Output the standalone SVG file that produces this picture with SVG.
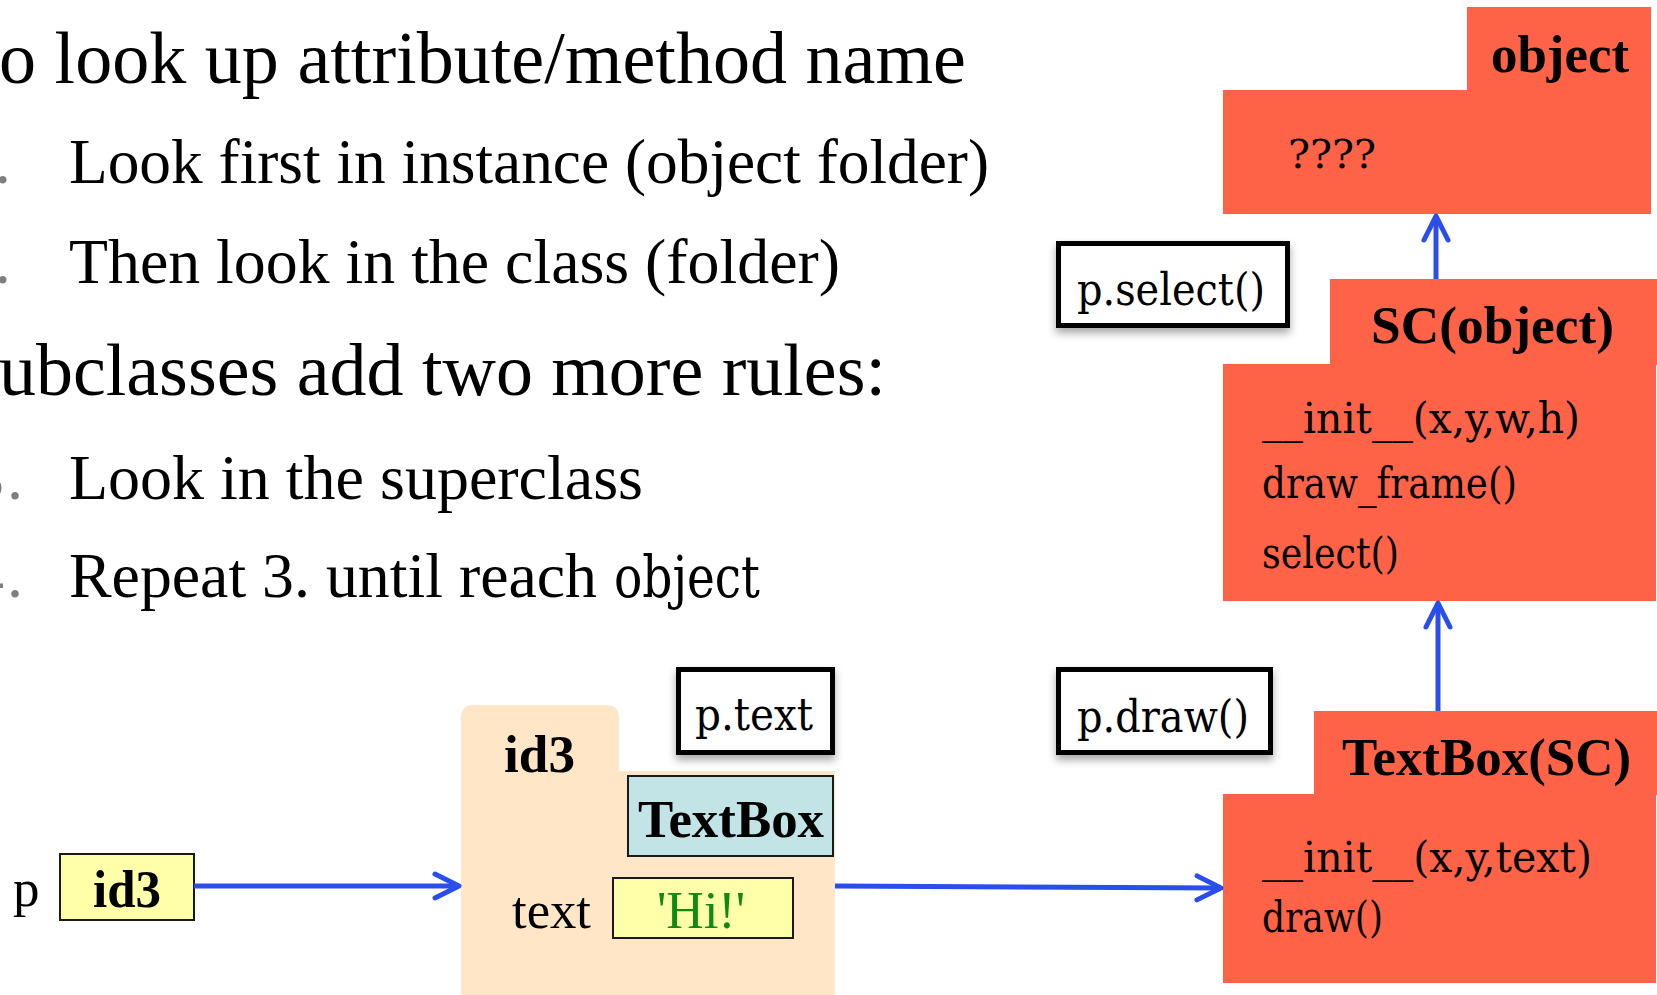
<svg xmlns="http://www.w3.org/2000/svg" width="1657" height="995" viewBox="0 0 1657 995">
  <style>
    .body { font-family: "Liberation Serif", "Times New Roman", serif; fill: #000; }
    .bul { font-family: "Liberation Serif", "Times New Roman", serif; fill: #7f7f7f; }
    .bold { font-family: "Liberation Serif", "Times New Roman", serif; font-weight: bold; fill: #000; }
    .tt { font-family: "DejaVu Serif Condensed", "DejaVu Serif", serif; font-stretch: condensed; fill: #000; }
    .cls { fill: #FF6347; }
    .callout { fill: #fff; stroke: #000; stroke-width: 5; filter: url(#shadow); }
    .val { fill: #FFFFAA; stroke: #1a1a1a; stroke-width: 2; }
    .link { stroke: #2A4EEA; stroke-width: 5; fill: none; marker-end: url(#chev); }
  </style>
  <defs>
    <filter id="shadow" x="-20%" y="-20%" width="140%" height="150%">
      <feDropShadow dx="0" dy="5" stdDeviation="4" flood-color="#000" flood-opacity="0.35"/>
    </filter>
    <marker id="chev" markerUnits="userSpaceOnUse" viewBox="-30 -16 34 32" refX="0" refY="0" markerWidth="34" markerHeight="32" orient="auto">
      <path d="M-24,-12 L0,0 L-24,12" fill="none" stroke="#2A4EEA" stroke-width="5" stroke-linecap="round" stroke-linejoin="round"/>
    </marker>
  </defs>

  <!-- lookup rules text -->
  <g id="rules">
    <text class="body" x="-1" y="83" font-size="74" textLength="967" lengthAdjust="spacingAndGlyphs">o look up attribute/method name</text>
    <text class="bul" x="-5.3" y="183" font-size="64">.</text>
    <text class="body" x="69" y="183" font-size="64" textLength="920" lengthAdjust="spacingAndGlyphs">Look first in instance (object folder)</text>
    <text class="bul" x="-5.3" y="283" font-size="64">.</text>
    <text class="body" x="69" y="283" font-size="64" textLength="771" lengthAdjust="spacingAndGlyphs">Then look in the class (folder)</text>
    <text class="body" x="-1" y="395" font-size="74" textLength="887" lengthAdjust="spacingAndGlyphs">ubclasses add two more rules:</text>
    <text class="bul" x="-28" y="499" font-size="64">3</text>
    <text class="bul" x="7" y="499" font-size="64">.</text>
    <text class="body" x="69" y="499" font-size="64" textLength="574" lengthAdjust="spacingAndGlyphs">Look in the superclass</text>
    <text class="bul" x="-28" y="597" font-size="64">4</text>
    <text class="bul" x="7" y="597" font-size="64">.</text>
    <text class="body" x="69" y="597" font-size="64" textLength="528" lengthAdjust="spacingAndGlyphs">Repeat 3. until reach</text>
    <text class="tt" x="614" y="597" font-size="58" textLength="146" lengthAdjust="spacingAndGlyphs">object</text>
  </g>

  <!-- class folder: object -->
  <g id="class-object">
    <rect class="cls" x="1467" y="7" width="184" height="84"/>
    <rect class="cls" x="1223" y="90" width="428" height="124"/>
    <text class="bold" x="1491" y="72" font-size="53" textLength="138" lengthAdjust="spacingAndGlyphs">object</text>
    <text class="tt" x="1288" y="168" font-size="40" textLength="88" lengthAdjust="spacingAndGlyphs">????</text>
  </g>

  <!-- class folder: SC(object) -->
  <g id="class-SC">
    <rect class="cls" x="1330" y="279" width="327" height="86"/>
    <rect class="cls" x="1223" y="364" width="433" height="237"/>
    <text class="bold" x="1371" y="343" font-size="53" textLength="243" lengthAdjust="spacingAndGlyphs">SC(object)</text>
    <text class="tt" x="1262" y="433" font-size="42" textLength="318" lengthAdjust="spacingAndGlyphs">__init__(x,y,w,h)</text>
    <text class="tt" x="1262" y="498" font-size="42" textLength="255" lengthAdjust="spacingAndGlyphs">draw_frame()</text>
    <text class="tt" x="1262" y="568" font-size="42" textLength="137" lengthAdjust="spacingAndGlyphs">select()</text>
  </g>

  <!-- class folder: TextBox(SC) -->
  <g id="class-TextBox">
    <rect class="cls" x="1314" y="711" width="343" height="84"/>
    <rect class="cls" x="1223" y="794" width="433" height="189"/>
    <text class="bold" x="1342" y="775" font-size="53" textLength="289" lengthAdjust="spacingAndGlyphs">TextBox(SC)</text>
    <text class="tt" x="1262" y="872" font-size="42" textLength="330" lengthAdjust="spacingAndGlyphs">__init__(x,y,text)</text>
    <text class="tt" x="1262" y="932" font-size="42" textLength="121" lengthAdjust="spacingAndGlyphs">draw()</text>
  </g>

  <!-- variable p -->
  <g id="var-p">
    <text class="body" x="13" y="906" font-size="53">p</text>
    <rect class="val" x="60" y="854" width="134" height="66"/>
    <text class="bold" x="93" y="907" font-size="52" textLength="68" lengthAdjust="spacingAndGlyphs">id3</text>
  </g>

  <!-- object folder id3 -->
  <g id="obj-id3">
    <path d="M461,995 V718 Q461,705 474,705 H606 Q619,705 619,718 V771 H835 V995 Z" fill="#FEE6C7"/>
    <text class="bold" x="504" y="772" font-size="53" textLength="71" lengthAdjust="spacingAndGlyphs">id3</text>
    <rect x="628" y="776" width="205" height="80" fill="#C3E4E6" stroke="#1a1a1a" stroke-width="2"/>
    <text class="bold" x="638" y="837" font-size="53" textLength="186" lengthAdjust="spacingAndGlyphs">TextBox</text>
    <text class="body" x="512" y="928" font-size="53" textLength="79" lengthAdjust="spacingAndGlyphs">text</text>
    <rect class="val" x="613" y="878" width="180" height="60"/>
    <text x="657" y="928" font-size="53" font-family="Liberation Serif, Times New Roman, serif" fill="#118A11" textLength="88" lengthAdjust="spacingAndGlyphs">'Hi!'</text>
  </g>

  <!-- expression callouts -->
  <g id="call-select">
    <rect class="callout" x="1058.5" y="243.5" width="229" height="82"/>
    <text class="tt" x="1077" y="305" font-size="44" textLength="188" lengthAdjust="spacingAndGlyphs">p.select()</text>
  </g>
  <g id="call-draw">
    <rect class="callout" x="1058.5" y="669.5" width="212" height="83"/>
    <text class="tt" x="1077" y="732" font-size="44" textLength="172" lengthAdjust="spacingAndGlyphs">p.draw()</text>
  </g>
  <g id="call-text">
    <rect class="callout" x="678.5" y="669.5" width="154" height="83"/>
    <text class="tt" x="695" y="730" font-size="44" textLength="118" lengthAdjust="spacingAndGlyphs">p.text</text>
  </g>

  <!-- connectors -->
  <g id="connectors">
    <line class="link" x1="194" y1="886" x2="459" y2="886"/>
    <line class="link" x1="835" y1="886" x2="1221" y2="888"/>
    <line class="link" x1="1438" y1="711" x2="1438" y2="603"/>
    <line class="link" x1="1436" y1="279" x2="1436" y2="216"/>
  </g>
</svg>
